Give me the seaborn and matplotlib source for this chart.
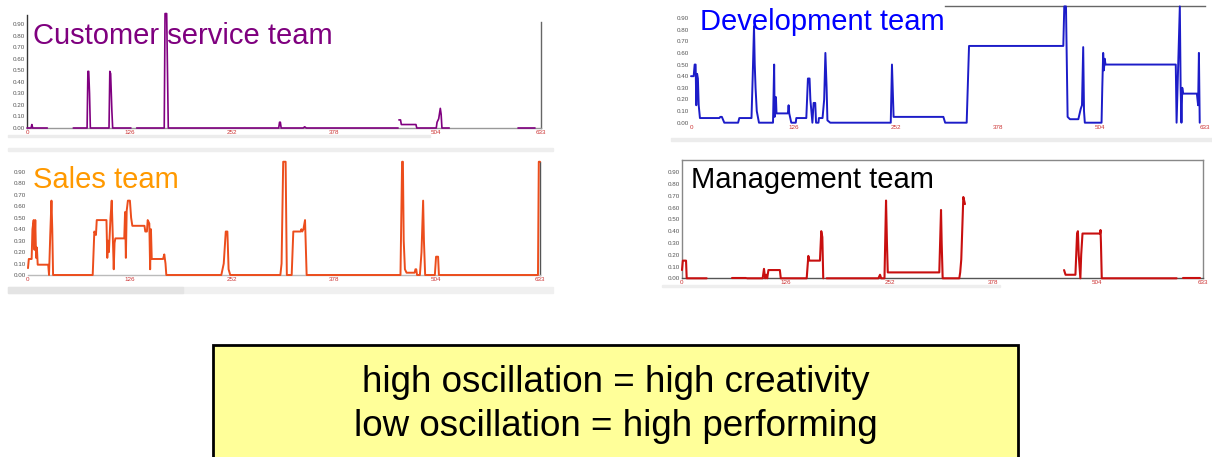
import numpy as np
import pandas as pd
import seaborn as sns
import matplotlib.pyplot as plt
from matplotlib.patches import Rectangle

sns.set_style("white")
plt.rcParams['font.family'] = ['Liberation Sans', 'DejaVu Sans']

W, H = 1212, 457
nan = np.nan

# values, (time step, oscillation); nan = gap in the line
customer_pts = [(0, 0), (5, 0), (6, 0.03), (7, 0), (25, 0), (nan, nan),
                (57, 0), (74, 0), (75, 0.49), (76, 0.49), (77, 0.3), (78, 0),
                (101, 0), (102, 0.49), (103, 0.47), (104.5, 0.15), (105.5, 0), (128, 0), (nan, nan),
                (135, 0), (169, 0), (170, 0.99), (172, 0.99), (173, 0.5), (174, 0),
                (310, 0), (311, 0.05), (312, 0.05), (313, 0), (340, 0), (342, 0.01), (344, 0), (457, 0), (nan, nan),
                (458, 0.07), (460, 0.07), (461, 0.03), (479, 0.03), (480, 0),
                (504, 0), (505, 0.05), (507, 0.08), (509, 0.17), (510, 0.12), (511, 0), (520, 0), (nan, nan),
                (605, 0), (625, 0)]

sales_pts = [(0, 0.06), (1, 0.14), (4.5, 0.14), (5.5, 0.40), (7, 0.48), (8, 0.22), (9, 0.48), (10, 0.15),
             (11, 0.24), (12, 0.09), (25, 0.09), (26, 0.0), (27.5, 0.35), (29, 0.65), (30, 0.40), (31, 0.0),
             (80, 0.0), (82, 0.38), (84, 0.35), (85, 0.48), (97, 0.48), (98, 0.15), (99, 0.30), (100, 0.20),
             (102, 0.50), (103.5, 0.65), (105, 0.30), (106, 0.05), (107, 0.28), (108, 0.32), (119, 0.32),
             (120, 0.55), (121, 0.15), (122, 0.56), (123.5, 0.65), (126, 0.65), (127.5, 0.50), (129, 0.43),
             (144, 0.43), (145, 0.38), (147, 0.38), (148, 0.48), (150, 0.45), (151, 0.05), (152, 0.40),
             (153, 0.14), (167, 0.14), (168.5, 0.18), (170, 0.10), (171, 0.0),
             (239, 0.0), (242, 0.10), (244.5, 0.38), (246.5, 0.38), (248, 0.05), (250, 0.0),
             (312, 0.0), (313.5, 0.10), (315.5, 0.99), (318.5, 0.99), (320, 0.0),
             (326, 0.0), (328, 0.38), (337, 0.38), (338, 0.40), (339, 0.38), (340.5, 0.40), (342.5, 0.48), (344.5, 0.0),
             (460.5, 0.0), (462.5, 0.99), (463.5, 0.99), (464.5, 0.30), (466, 0.05), (468, 0.02), (478, 0.02),
             (479, 0.05), (480, 0.05), (481, 0.0), (484.5, 0.0), (486.5, 0.2), (488.5, 0.65), (489.5, 0.3),
             (491, 0.0),
             (503, 0.0), (504.5, 0.16), (507, 0.16), (508, 0.0),
             (630.5, 0.0), (631.5, 0.99), (633, 0.99)]

dev_pts = [(0, 0.40), (3.3, 0.40), (4.5, 0.50), (5.7, 0.50), (6.5, 0.15), (7.5, 0.42), (8.5, 0.38), (9.5, 0.15),
           (11, 0.04), (35, 0.04), (36, 0.05), (38, 0.05), (41, 0.0), (58, 0.0), (59.5, 0.04), (74.5, 0.04),
           (76, 0.4), (77.6, 0.83), (78.5, 0.5), (79.5, 0.3), (81, 0.1), (83.7, 0.0),
           (101, 0.0), (102.4, 0.50), (103, 0.05), (104.6, 0.22), (105.3, 0.08), (119.3, 0.08), (120.2, 0.15),
           (121, 0.08), (123.5, 0.0), (129, 0.0), (129.7, 0.04), (142, 0.04), (144, 0.38), (146, 0.38),
           (147, 0.20), (149.5, 0.0), (151, 0.17), (153, 0.17), (154, 0.0), (157, 0.0), (157.5, 0.04),
           (162, 0.04), (164, 0.2), (165.5, 0.6), (167, 0.3), (168, 0.02), (171.5, 0.0),
           (246, 0.0), (247.5, 0.50), (249.5, 0.05), (310.8, 0.05), (313, 0.0), (339.5, 0.0), (342.4, 0.66),
           (458.5, 0.66), (459.7, 1.0), (461.8, 1.0), (463.8, 0.05), (466.7, 0.03), (477, 0.03), (480, 0.12),
           (481.5, 0.15), (483, 0.65), (484, 0.1), (485, 0.0), (505.6, 0.0), (506.5, 0.3), (507.6, 0.60),
           (508.5, 0.45), (509.5, 0.55), (510.5, 0.50), (597, 0.50), (598, 0.0), (600, 0.5), (602, 1.0),
           (603, 0.3), (604, 0.0), (605, 0.30), (606, 0.25), (623, 0.25), (624.5, 0.15), (625.5, 0.60), (626.5, 0.0)]

mgmt_pts = [(0, 0.07), (1, 0.15), (4.9, 0.15), (5.7, 0.0), (30, 0.0), (nan, nan),
            (60.4, 0.0), (77.8, 0.0), (nan, nan),
            (79, 0.0), (98, 0.0), (99.6, 0.08), (101, 0.0), (102.5, 0.03), (103.5, 0.0), (105, 0.07),
            (118.9, 0.07), (120, 0.0), (151.5, 0.0), (153.5, 0.19), (154.7, 0.15), (167.6, 0.15),
            (169.2, 0.40), (170.5, 0.35), (171.6, 0.0), (nan, nan),
            (175.7, 0.0), (238.6, 0.0), (240.6, 0.03), (242, 0.0), (246, 0.0), (247.9, 0.66), (249, 0.3),
            (250, 0.05), (312.6, 0.05), (314.7, 0.58), (315.5, 0.3), (316.7, 0.0), (336.9, 0.0), (338, 0.05),
            (339.3, 0.16), (341.8, 0.69), (343.8, 0.63), (nan, nan),
            (464.2, 0.07), (466, 0.03), (478, 0.03), (480, 0.38), (481, 0.40), (482, 0.2), (484, 0.0),
            (485, 0.2), (486.6, 0.38), (508, 0.38), (508.5, 0.41), (509, 0.3), (510, 0.0), (601, 0.0), (nan, nan),
            (609, 0.0), (629, 0.0)]

x_ticks = [0, 126, 252, 378, 504, 633]
y_ticks = [0.0, 0.1, 0.2, 0.3, 0.4, 0.5, 0.6, 0.7, 0.8, 0.9]
titles = ["Customer service team", "Sales team", "Development team", "Management team"]
box_lines = ["high oscillation = high creativity", "low oscillation = high performing"]


def to_frame(pts):
    df = pd.DataFrame(pts, columns=["t", "v"])
    df["seg"] = df["t"].isna().cumsum()
    return df.dropna()


def px_axes(fig, left, right, top, bottom):
    return fig.add_axes([left / W, 1 - bottom / H, (right - left) / W, (bottom - top) / H])


def panel(fig, pts, box, color, lw, spines):
    ax = px_axes(fig, *box)
    sns.lineplot(data=to_frame(pts), x="t", y="v", units="seg", estimator=None, sort=False,
                 color=color, lw=lw, ax=ax)
    # keep the zero line fully visible on top of the axis line
    for ln in ax.lines:
        ln.set_clip_on(False)
        ln.set_zorder(3)
    ax.set_xlim(0, 633)
    ax.set_ylim(0, 1.0)
    ax.set_xticks(x_ticks)
    ax.set_xticklabels([str(t) for t in x_ticks], fontsize=4.5, color="#cc3333")
    ax.set_yticks(y_ticks)
    ax.set_yticklabels(["%.2f" % v for v in y_ticks], fontsize=4.5, color="#555555")
    ax.tick_params(length=0, pad=1.5)
    ax.set_xlabel("")
    ax.set_ylabel("")
    ax.patch.set_alpha(0)
    for side in ["left", "right", "top", "bottom"]:
        ax.spines[side].set_visible(side in spines)
        if side in spines:
            col, lo, hi = spines[side]
            ax.spines[side].set_color(col)
            ax.spines[side].set_linewidth(1.0)
            if lo is not None:
                ax.spines[side].set_bounds(lo, hi)
    return ax


fig = plt.figure(figsize=(W / 100, H / 100), dpi=100)

# faint screenshot borders
for (x0, y0, x1, y1, c) in [(8, 135, 430, 137, "#ececec"), (8, 148, 553, 151, "#eeeeee"),
                            (8, 287, 553, 293, "#f0f0f0"), (8, 287, 183, 293, "#e4e4e4"),
                            (671, 138, 1212, 141, "#ececec"), (662, 285, 1000, 287, "#eeeeee")]:
    fig.patches.append(Rectangle((x0 / W, 1 - y1 / H), (x1 - x0) / W, (y1 - y0) / H,
                                 transform=fig.transFigure, color=c, zorder=0))

panel(fig, customer_pts, (27, 541, 12.4, 128), "#800080", 1.2,
      {"left": ("#333333", 0, 0.98), "bottom": ("#999999", None, None), "right": ("#666666", 0, 0.92)})
panel(fig, sales_pts, (28, 540, 160.6, 275), "#ec4d1c", 1.4,
      {"bottom": ("#bbbbbb", None, None), "right": ("#555555", 0, 0.99)})
panel(fig, dev_pts, (691, 1205, 6.4, 122.7), "#1c1cc8", 1.4,
      {"top": ("#666666", 313, 633)})
panel(fig, mgmt_pts, (682, 1203, 160.5, 278.3), "#c80f0f", 1.5,
      {"left": ("#888888", None, None), "bottom": ("#555555", None, None),
       "top": ("#888888", None, None), "right": ("#888888", None, None)})

# team labels
for text, x, y, c in zip(titles, [33, 33, 700, 691], [43.5, 188, 29.5, 188.5],
                         ["#7f007f", "#ff9900", "#0000ff", "#000000"]):
    fig.text(x / W, 1 - y / H, text, fontsize=21, color=c, va="baseline", ha="left")

# yellow note box
fig.patches.append(Rectangle((213 / W, -0.05), (1018 - 213) / W, 0.05 + 1 - 345 / H,
                             transform=fig.transFigure, facecolor="#ffff99", edgecolor="black",
                             lw=2, zorder=1))
for line, y in zip(box_lines, [392, 436]):
    fig.text(616 / W, 1 - y / H, line, fontsize=26.5, color="black", ha="center", va="baseline")

fig.savefig("out.png", dpi=100)
